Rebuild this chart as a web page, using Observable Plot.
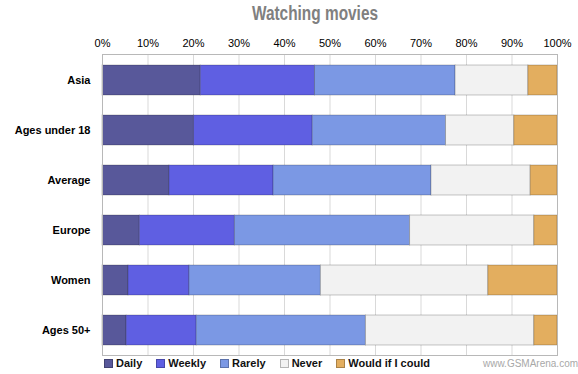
<!DOCTYPE html>
<html><head><meta charset="utf-8">
<script src="https://cdn.jsdelivr.net/npm/d3@7"></script>
<script src="https://cdn.jsdelivr.net/npm/@observablehq/plot@0.6"></script>
<style>
body{margin:0;background:#fff;}
#wrap{position:relative;width:578px;height:374px;overflow:hidden;font-family:"Liberation Sans",Arial,sans-serif;background:#fff;}
#title{position:absolute;left:190px;top:3px;width:250px;text-align:center;white-space:nowrap;font-family:"Liberation Sans",Arial,sans-serif;font-weight:bold;font-size:20px;line-height:20px;color:#808080;transform:scaleX(0.77);transform-origin:50% 50%;}
#chart{position:absolute;left:0;top:28px;}
#legend{position:absolute;top:357px;left:104px;display:flex;align-items:center;font-size:11px;font-weight:bold;color:#111;white-space:nowrap;}
.item{display:flex;align-items:center;margin-right:14px;}
.sw{width:7px;height:7px;margin-right:3px;border:1px solid rgba(0,0,0,0.25);}
#wm{position:absolute;left:483px;top:358px;font-size:10px;color:#a8a8a8;white-space:nowrap;}
</style></head>
<body>
<div id="wrap">
  <div id="title">Watching movies</div>
  <div id="chart"></div>
  <div id="legend"></div>
  <div id="wm">www.GSMArena.com</div>
</div>
<script>
const categories = ["Asia", "Ages under 18", "Average", "Europe", "Women", "Ages 50+"];
const series = ["Daily", "Weekly", "Rarely", "Never", "Would if I could"];
const daily  = [21.6, 20.1, 14.7, 8.2, 5.7, 5.3];
const weekly = [25.1, 26.1, 22.9, 20.9, 13.4, 15.4];
const rarely = [30.9, 29.3, 34.7, 38.5, 28.9, 37.2];
const never  = [16.0, 15.0, 21.8, 27.3, 36.8, 37.0];
const would  = [6.4, 9.5, 5.9, 5.1, 15.2, 5.1];
const xTicks = [0, 10, 20, 30, 40, 50, 60, 70, 80, 90, 100];
const colors = ["#58589a", "#5f5fe2", "#7b98e4", "#f2f2f2", "#e3ae5f"];

const seriesValues = [daily, weekly, rarely, never, would];
const rows = [];
categories.forEach((c, i) => {
  series.forEach((s, j) => rows.push({category: c, series: s, value: seriesValues[j][i]}));
});

const chart = Plot.plot({
  width: 578, height: 330,
  marginLeft: 102, marginRight: 21, marginTop: 26, marginBottom: 3,
  style: {fontFamily: "Liberation Sans, Arial, sans-serif", fontSize: "11px", color: "#000", background: "transparent"},
  x: {domain: [0, 100]},
  y: {domain: categories, paddingInner: 0.4, paddingOuter: 0.2},
  color: {domain: series, range: colors},
  marks: [
    Plot.ruleX(xTicks, {stroke: "#d9d9d9", strokeWidth: 1}),
    Plot.barX(rows, Plot.stackX({x: "value", y: "category", fill: "series", stroke: "rgba(0,0,0,0.22)", strokeWidth: 1, order: null})),
    Plot.frame({stroke: "#b8b8b8"}),
    Plot.axisX({anchor: "top", ticks: xTicks, tickFormat: d => d + "%", tickSize: 0, tickPadding: 8, label: null}),
    Plot.axisY({tickSize: 0, tickPadding: 12, fontWeight: "bold", label: null})
  ]
});
document.getElementById("chart").appendChild(chart);

const legend = document.getElementById("legend");
series.forEach((s, j) => {
  const it = document.createElement("div");
  it.className = "item";
  const sw = document.createElement("span");
  sw.className = "sw";
  sw.style.background = colors[j];
  const t = document.createElement("span");
  t.textContent = s;
  it.appendChild(sw); it.appendChild(t);
  legend.appendChild(it);
});
</script>
</body></html>
